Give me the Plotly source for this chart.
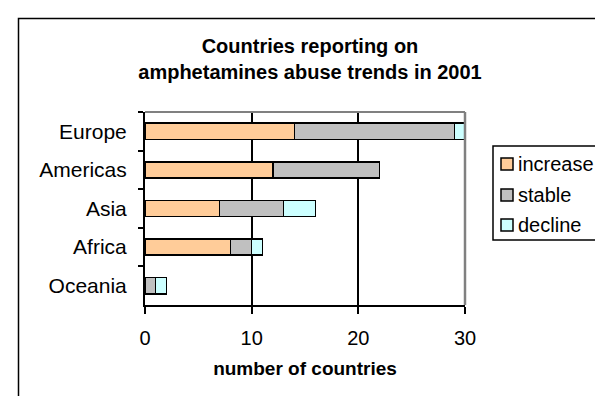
import plotly.graph_objects as go

regions = ["Europe", "Americas", "Asia", "Africa", "Oceania"]
increase = [14, 12, 7, 8, 0]
stable = [15, 10, 6, 2, 1]
decline = [1, 0, 3, 1, 1]
x_ticks = [0, 10, 20, 30]
series_names = ["increase", "stable", "decline"]
series_colors = ["#FFCC99", "#C0C0C0", "#CCFFFF"]
series_values = [increase, stable, decline]

W, H = 603, 396
L, R, T, B = 137, 146, 104, 99
pw, ph = W - L - R, H - T - B

def px2x(p):
    return (p - L) / pw

def py2y(p):
    return (H - B - p) / ph

font = "Arial, Liberation Sans, sans-serif"

fig = go.Figure()
for name, vals, col in zip(series_names, series_values, series_colors):
    fig.add_trace(go.Bar(
        y=regions, x=vals, name=name, orientation="h", showlegend=False,
        marker=dict(color=col, line=dict(color="black", width=1.5)),
    ))

fig.update_layout(
    width=W, height=H,
    margin=dict(l=L, r=R, t=T, b=B),
    barmode="stack", bargap=0.58,
    paper_bgcolor="white", plot_bgcolor="white",
    font=dict(family=font, size=20, color="black"),
    title=dict(text="<b>Countries reporting on<br>amphetamines abuse trends in 2001</b>",
               x=px2x(302), xanchor="center", xref="paper",
               y=(H - 45) / H, yanchor="middle",
               font=dict(family=font, size=20, color="black")),
    showlegend=False,
    xaxis=dict(range=[0, 30], tickvals=x_ticks, ticktext=[str(v) for v in x_ticks],
               showgrid=True, gridcolor="black", gridwidth=1.5,
               showline=True, linecolor="black", linewidth=2,
               ticks="outside", ticklen=7, tickcolor="black", tickwidth=1.5,
               ticklabelstandoff=7,
               tickfont=dict(family=font, size=20, color="black"),
               zeroline=False, fixedrange=True,
               title=dict(text="<b>number of countries</b>", standoff=14,
                          font=dict(family=font, size=19, color="black"))),
    yaxis=dict(autorange="reversed", showgrid=False,
               showline=True, linecolor="black", linewidth=2,
               ticks="outside", ticklen=5, tickcolor="black", tickwidth=1.5,
               tickson="boundaries", ticklabelstandoff=12,
               tickfont=dict(family=font, size=21, color="black"),
               fixedrange=True),
)

# plot-area gray top and right edges
fig.add_shape(type="line", xref="paper", yref="paper", x0=0, x1=1, y0=1, y1=1,
              line=dict(color="#808080", width=2))
fig.add_shape(type="line", xref="paper", yref="paper", x0=1, x1=1, y0=0, y1=1,
              line=dict(color="#808080", width=2.5))
# outer chart border (extends beyond image on right and bottom)
fig.add_shape(type="rect", xref="paper", yref="paper",
              x0=px2x(10.5), x1=px2x(700), y0=py2y(450), y1=py2y(10.5),
              line=dict(color="black", width=1.5), layer="below")

# legend box drawn by hand (Excel style)
fig.add_shape(type="rect", xref="paper", yref="paper",
              x0=px2x(485), x1=px2x(601), y0=py2y(232), y1=py2y(138),
              line=dict(color="black", width=1.5), fillcolor="white")
row_y = [156, 187, 217]
for name, col, yc in zip(series_names, series_colors, row_y):
    fig.add_shape(type="rect", xref="paper", yref="paper",
                  x0=px2x(493), x1=px2x(505), y0=py2y(yc + 6), y1=py2y(yc - 6),
                  line=dict(color="black", width=1.5), fillcolor=col)
    fig.add_annotation(text=name, xref="paper", yref="paper",
                       x=px2x(508), y=py2y(yc), xanchor="left", yanchor="middle",
                       showarrow=False,
                       font=dict(family=font, size=20, color="black"))

fig.write_html("out.html")
